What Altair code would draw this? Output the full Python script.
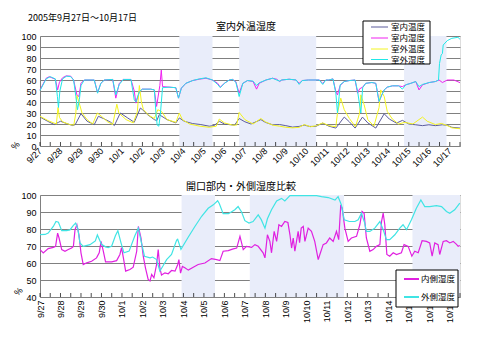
import altair as alt
import pandas as pd

FONT = "Noto Sans CJK JP"
NUMFONT = "Liberation Sans"

header = "2005年9月27日～10月17日"
top_title = "室内外温湿度"
bottom_title = "開口部内・外側湿度比較"

day_labels = ["9/27", "9/28", "9/29", "9/30", "10/1", "10/2", "10/3", "10/4", "10/5",
              "10/6", "10/7", "10/8", "10/9", "10/10", "10/11", "10/12", "10/13",
              "10/14", "10/15", "10/16", "10/17"]

top_names = ["室内温度", "室内湿度", "室外温度", "室外湿度"]
top_colors = ["#5c5c9c", "#f020f0", "#f4f420", "#20e8e8"]
bottom_names = ["内側湿度", "外側湿度"]
bottom_colors = ["#e020e0", "#40e4e4"]

# shaded periods (days from 9/27 0:00)
top_band_start = [6.80, 9.72, 17.77]
top_band_end = [8.42, 13.48, 19.84]
bottom_band_start = [6.91, 10.24, 18.18]
bottom_band_end = [8.54, 14.84, 20.5]

# ---------------- top panel series ----------------
in_temp_d = [0, 0.37, 0.7, 0.9, 1.0, 1.3, 1.6, 1.72, 2.0, 2.3, 2.65, 2.85, 3.14, 3.45, 3.63, 3.92,
             4.28, 4.6, 4.9, 5.0, 5.25, 5.58, 5.7, 5.82, 6.2, 6.63, 6.8, 7.04, 7.45, 7.85, 8.26,
             8.5, 8.75, 9.0, 9.3, 9.5, 9.72, 10.0, 10.3, 10.78, 11.0, 11.35, 11.7, 12.0, 12.33,
             12.65, 12.9, 13.15, 13.46, 13.8, 14.1, 14.44, 14.85, 15.1, 15.38, 15.74, 16.0,
             16.39, 16.8, 17.05, 17.4, 17.69, 18.0, 18.34, 18.67, 18.98, 19.3, 19.64, 19.88,
             20.1, 20.5]
in_temp_v = [26.4, 22.5, 19.5, 21.5, 22.5, 20.4, 18.6, 19.5, 29.4, 22.5, 19.5, 27, 24.6, 21.6,
             18.6, 30, 25.5, 21.6, 34.5, 33, 28.5, 24, 23, 28.5, 24, 21, 25.5, 22.5, 20.4, 19.5,
             18, 18.6, 22.5, 20, 19.3, 19, 25, 22, 20, 24, 21.5, 19.3, 19.5, 18.5, 17.2, 17.8,
             19, 17.8, 17.8, 20.8, 18, 16.3, 26.3, 22, 16.3, 26.3, 21, 16.3, 29.3, 24.5, 20.8,
             23.3, 20, 19.3, 18.5, 19.3, 18.5, 19.3, 18.8, 17, 16.3]

in_hum_d = [0, 0.3, 0.45, 0.75, 0.86, 0.95, 1.1, 1.27, 1.5, 1.64, 1.8, 1.9, 2.0, 2.16, 2.65,
            2.81, 2.97, 3.14, 3.55, 3.7, 3.87, 4.07, 4.44, 4.6, 4.68, 4.85, 5.0, 5.4, 5.58,
            5.69, 5.85, 5.92, 5.98, 6.3, 6.63, 6.76, 6.9, 7.12, 7.45, 7.77, 8.1, 8.42, 8.67,
            8.8, 9.0, 9.24, 9.4, 9.56, 9.72, 9.9, 10.13, 10.4, 10.57, 10.7, 11.03, 11.35, 11.55,
            11.7, 11.8, 12.16, 12.5, 12.65, 12.8, 13.1, 13.63, 13.8, 13.95, 14.1, 14.3, 14.44,
            14.52, 14.65, 14.85, 15.1, 15.38, 15.5, 15.6, 15.75, 15.9, 16.2, 16.39, 16.55,
            16.72, 16.8, 16.95, 17.2, 17.5, 17.69, 17.85, 18.1, 18.34, 18.5, 18.67, 19.0, 19.3,
            19.48, 19.64, 19.88, 20.2, 20.45, 20.5]
in_hum_v = [51, 61.6, 63, 60.7, 51, 58, 62, 63.7, 63.5, 60, 46.5, 45, 57, 60, 60, 48.6, 57, 60,
            60.5, 43.5, 57, 60.5, 60.5, 50, 39, 49.5, 51.7, 51.7, 51, 36, 55, 69, 54, 53.5, 53,
            43.5, 52.6, 57, 59.5, 60.7, 61.6, 60, 57, 53.5, 57, 60, 60.5, 58.5, 48, 57, 59.5,
            58.6, 51.7, 57, 60, 61.6, 60.7, 58.6, 60, 60.7, 60, 57, 59.5, 60, 60, 57, 60, 60,
            61, 49.5, 46.5, 55, 58.6, 59.5, 60, 48, 52, 53.5, 57, 57.7, 57, 40.5, 48, 51, 53.5,
            54.7, 54.7, 54, 55.6, 57, 58.6, 51, 55.6, 57.7, 58.6, 60, 57.7, 60, 60, 58, 57.5]

out_temp_d = [0, 0.4, 0.8, 0.88, 0.95, 1.1, 1.45, 1.65, 1.75, 1.8, 1.9, 2.05, 2.3, 2.57, 2.8,
              3.0, 3.3, 3.55, 3.75, 3.85, 4.2, 4.55, 4.75, 4.85, 4.95, 5.05, 5.3, 5.58, 5.75,
              5.95, 6.2, 6.63, 6.8, 6.95, 7.3, 7.8, 8.26, 8.6, 8.75, 9.0, 9.4, 9.6, 9.72, 10.0,
              10.4, 10.78, 11.0, 11.35, 11.7, 12.0, 12.33, 12.65, 12.9, 13.2, 13.5, 13.8, 14.1,
              14.44, 14.52, 14.68, 14.85, 15.1, 15.4, 15.6, 15.66, 15.82, 16.0, 16.3, 16.55,
              16.63, 16.8, 16.95, 17.2, 17.5, 17.8, 18.2, 18.67, 18.9, 19.3, 19.6, 19.95, 20.1,
              20.5]
out_temp_v = [27, 23, 20, 35, 26, 22, 19.5, 19, 30, 46, 40, 30, 24, 20, 30, 27, 22, 19.5, 38,
              30, 24, 21, 31, 55, 40, 33, 28, 25, 33, 31, 24, 21.5, 30, 24, 20, 18, 17, 18, 24.5,
              21, 19, 19, 30.5, 24, 20, 25, 22, 19, 18, 17, 16.5, 17, 19.5, 17.5, 18.5, 21, 18.5,
              17.5, 30, 43.5, 33, 25, 17.5, 30, 46.5, 37.5, 24, 18, 35, 51, 45, 31.4, 24.5, 20,
              21.5, 20, 26.3, 22.5, 19.5, 20.5, 18, 16.5, 15.7]

out_hum_d = [0, 0.3, 0.5, 0.75, 0.85, 0.9, 0.97, 1.1, 1.3, 1.5, 1.64, 1.75, 1.83, 1.92, 2.0,
             2.16, 2.65, 2.81, 2.97, 3.14, 3.55, 3.7, 3.87, 4.07, 4.44, 4.6, 4.68, 4.85, 5.0,
             5.4, 5.58, 5.66, 5.72, 5.8, 5.88, 5.98, 6.3, 6.63, 6.76, 6.9, 7.12, 7.45, 7.77,
             8.1, 8.42, 8.67, 8.8, 9.0, 9.24, 9.4, 9.56, 9.72, 9.9, 10.13, 10.4, 10.57, 10.7,
             11.03, 11.35, 11.55, 11.7, 11.8, 12.16, 12.5, 12.65, 12.8, 13.1, 13.63, 13.8,
             13.95, 14.1, 14.3, 14.44, 14.52, 14.6, 14.65, 14.85, 15.1, 15.38, 15.5, 15.66,
             15.75, 15.9, 16.2, 16.39, 16.55, 16.65, 16.8, 16.95, 17.2, 17.5, 17.69, 17.85,
             18.1, 18.34, 18.5, 18.67, 19.0, 19.3, 19.45, 19.5, 19.58, 19.64, 19.68, 19.88,
             20.1, 20.4, 20.5]
out_hum_v = [50.4, 61, 63, 61, 45, 35, 50, 61, 63.5, 63, 60, 45, 33, 42, 55, 60, 60, 48, 57,
             60, 60.5, 46.5, 56, 60.5, 60.5, 42, 40, 49.5, 51.7, 51.7, 51, 30, 19, 18, 30, 53,
             53.5, 53, 43.5, 52.6, 57, 59.5, 61, 62, 60, 56, 53, 57, 60, 60.5, 58, 45, 57, 59.5,
             59, 55, 57.5, 60, 61.6, 60, 59, 60, 60.7, 60, 56, 59.5, 60, 60, 56, 60, 60, 61, 48,
             30, 45, 55.6, 58.6, 59.5, 60, 50, 30, 53, 57, 57.7, 57, 40.5, 45, 51, 53.5, 54.7,
             54.7, 51.7, 55.6, 57, 58.6, 54, 56, 57.7, 58.6, 60, 75, 82.8, 84, 91.8, 95.8, 97.9,
             98.8, 97]

# ---------------- bottom panel series ----------------
inner_d = [0, 0.16, 0.4, 0.65, 0.76, 0.86, 0.93, 1.06, 1.22, 1.38, 1.54, 1.63, 1.71, 1.8, 1.9,
           2.0, 2.11, 2.28, 2.52, 2.76, 2.89, 2.98, 3.09, 3.2, 3.5, 3.74, 3.9, 3.98, 4.07, 4.18,
           4.39, 4.55, 4.72, 4.8, 4.93, 5.04, 5.15, 5.28, 5.37, 5.45, 5.56, 5.69, 5.77, 5.85,
           5.93, 6.1, 6.26, 6.42, 6.59, 6.72, 6.78, 6.86, 6.95, 7.07, 7.24, 7.48, 7.72, 8.05,
           8.37, 8.62, 8.78, 8.94, 9.19, 9.43, 9.6, 9.76, 9.84, 9.92, 10.08, 10.33, 10.49,
           10.65, 10.89, 10.98, 11.1, 11.22, 11.3, 11.43, 11.55, 11.66, 11.79, 11.95, 12.1,
           12.2, 12.28, 12.36, 12.44, 12.6, 12.67, 12.75, 12.85, 12.93, 13.09, 13.25, 13.41,
           13.58, 13.66, 13.82, 13.98, 14.14, 14.31, 14.47, 14.58, 14.68, 14.75, 14.88, 15.04,
           15.2, 15.45, 15.61, 15.72, 15.82, 15.93, 16.1, 16.26, 16.42, 16.59, 16.67, 16.75,
           16.83, 16.93, 17.07, 17.24, 17.4, 17.64, 17.77, 17.97, 18.15, 18.29, 18.46, 18.65,
           18.86, 19.02, 19.14, 19.27, 19.43, 19.51, 19.68, 19.84, 20.0, 20.17, 20.33, 20.41,
           20.49]
inner_v = [67.9, 65.9, 68.5, 69.2, 69.8, 77.6, 74.7, 67.9, 66.9, 67.9, 68.8, 69.8, 79.6, 82.5,
           76.6, 66, 59.1, 60.1, 61, 63, 66, 72.7, 67, 60.7, 60.7, 61.4, 65, 69, 63, 55.2, 56.2,
           57.5, 66.9, 81.5, 74.7, 64, 57, 50.3, 49.4, 53.3, 51.3, 59.1, 67.9, 57.2, 52.9, 54.2,
           53.7, 55.6, 55.2, 59, 62, 54, 58, 57.2, 55.8, 57.5, 59.1, 60, 62.6, 62, 61.4, 66.9,
           67.3, 68.3, 68.8, 75.7, 71.8, 67.9, 69.8, 69.2, 70.8, 69.8, 66, 63, 76.6, 72.7, 66,
           78.6, 72.7, 82.5, 81.5, 84.4, 83.8, 76.6, 68.8, 74.7, 66.9, 78.6, 72, 80.5, 81.5,
           72.7, 80.5, 78.6, 72.7, 62, 65, 70.8, 71.8, 74.7, 72.7, 78.6, 73.7, 94.2, 92.2, 80.5,
           72.7, 74.7, 75.7, 82.5, 90.3, 89.3, 74.7, 66.9, 67.9, 69.8, 70.8, 84.4, 89.3, 82.5,
           65, 64, 66, 65, 66, 70.8, 69.8, 64, 66.9, 66, 73.1, 72.7, 71.8, 64, 71.8, 70.8, 65,
           72.7, 73.1, 71.8, 72.7, 71, 69.8, 70.3]

outer_d = [0, 0.25, 0.4, 0.65, 0.78, 0.9, 1.06, 1.3, 1.46, 1.62, 1.74, 1.85, 1.95, 2.11, 2.44,
           2.7, 2.8, 3.0, 3.2, 3.33, 3.5, 3.68, 3.8, 3.95, 4.1, 4.35, 4.63, 4.8, 4.95, 5.1, 5.37,
           5.5, 5.69, 5.85, 6.0, 6.18, 6.42, 6.67, 6.72, 6.88, 7.24, 7.56, 7.89, 8.21, 8.46,
           8.67, 8.75, 8.94, 9.2, 9.51, 9.67, 9.84, 10.0, 10.2, 10.4, 10.65, 10.8, 10.98, 11.1,
           11.3, 11.55, 11.79, 11.95, 12.2, 12.5, 13.09, 13.5, 13.74, 14.07, 14.4, 14.55,
           14.71, 14.85, 15.1, 15.37, 15.53, 15.69, 15.85, 15.93, 16.1, 16.34, 16.59, 16.75,
           16.91, 17.07, 17.32, 17.56, 17.72, 17.89, 18.13, 18.37, 18.59, 18.78, 19.02, 19.35,
           19.6, 19.84, 20.0, 20.24, 20.49]
outer_v = [76.7, 76.8, 77.6, 81.5, 84.4, 84, 79, 79, 79.5, 82, 83.5, 80, 71.8, 69.8, 70.8, 73,
           76.5, 71, 69.5, 69, 70, 76, 79, 72, 66, 67, 76, 80.5, 72, 64, 63, 63.5, 62, 55.3,
           58.2, 62, 65, 73.5, 74, 68, 75.3, 81.5, 87.5, 92.2, 94.2, 96.6, 95, 89, 89, 91.3,
           93.2, 90, 84.9, 83.5, 84.4, 88.3, 85.5, 80.5, 86, 91.3, 96.5, 98, 96.5, 99.6, 99.6,
           99.6, 99.6, 99, 98.5, 97, 99, 94.2, 85.4, 84.4, 84.4, 85.4, 89.3, 83.5, 78.6, 78.6,
           80.5, 84.4, 79.6, 73.7, 73.7, 76.6, 80.5, 82.5, 79.6, 85.4, 92.2, 97.1, 93.2, 93.2,
           93.8, 93.2, 90.3, 89.3, 91.3, 95.2]

# ---------------- build tables ----------------
def series(d, v, name):
    return pd.DataFrame({"d": d, "v": v, "s": name})

top_df = pd.concat([
    series(in_temp_d, in_temp_v, top_names[0]),
    series(in_hum_d, in_hum_v, top_names[1]),
    series(out_temp_d, out_temp_v, top_names[2]),
    series(out_hum_d, out_hum_v, top_names[3]),
])
bottom_df = pd.concat([
    series(inner_d, inner_v, bottom_names[0]),
    series(outer_d, outer_v, bottom_names[1]),
])

W = 420
H1 = 110
H2 = 102
XMAX = 20.5
GRID = "#808080"
BAND = "#e9edfa"

tick_pos = pd.DataFrame({"p": [i * 0.5 for i in range(len(day_labels) * 2)]})
labels_js = "[" + ",".join("'%s'" % s for s in day_labels) + "]"
x_scale = alt.Scale(domain=[0, XMAX], nice=False, zero=False)


def x_axis(angle, align, baseline):
    return alt.Axis(values=list(range(len(day_labels))), labelExpr=labels_js + "[datum.value]",
                    labelAngle=angle, labelAlign=align, labelBaseline=baseline,
                    labelOverlap=False, labelFlush=False,
                    ticks=False, grid=False, domainColor=GRID, labelFontSize=9,
                    labelPadding=3, title=None, labelFont=NUMFONT, labelColor="#000000")


def y_axis(lo, title_x, title_y):
    return alt.Axis(values=list(range(lo, 101, 10)), grid=True, gridColor=GRID,
                    domainColor=GRID, ticks=False, labelFontSize=9, labelPadding=4,
                    labelFont=NUMFONT, labelColor="#000000", labelOverlap=False,
                    labelFlush=False,
                    title="%", titleAngle=-45, titleX=title_x, titleY=title_y,
                    titleAlign="center", titleBaseline="middle",
                    titleFontSize=9, titleFontWeight="normal", titleFont=NUMFONT)


def bands(start, end, h, axis):
    df = pd.DataFrame({"a": start, "b": end})
    return alt.Chart(df).mark_rect(color=BAND).encode(
        x=alt.X("a:Q", scale=x_scale, axis=axis), x2="b:Q", y=alt.value(0), y2=alt.value(h))


def ticks(h, axis):
    return alt.Chart(tick_pos).mark_tick(color="#000000", thickness=1).encode(
        x=alt.X("p:Q", scale=x_scale, axis=axis), y=alt.value(h - 2), size=alt.value(4))


def note(text, x, y, align, size):
    return alt.Chart(pd.DataFrame({"t": [text]})).mark_text(
        align=align, baseline="middle", fontSize=size, font=FONT, color="#000000").encode(
        text="t:N", x=alt.value(x), y=alt.value(y))


def legend(names, colors, box, sym_x, txt_x, row_y, stroke_w):
    one = pd.DataFrame({"k": [0]})
    parts = [alt.Chart(one).mark_rect(fill="#ffffff", stroke="#000000", strokeWidth=1).encode(
        x=alt.value(box[0]), x2=alt.value(box[2]), y=alt.value(box[1]), y2=alt.value(box[3]))]
    for name, col, ry in zip(names, colors, row_y):
        parts.append(alt.Chart(one).mark_rule(strokeWidth=stroke_w, color=col).encode(
            x=alt.value(sym_x[0]), x2=alt.value(sym_x[1]), y=alt.value(ry)))
        parts.append(note(name, txt_x, ry, "left", 8.5))
    return parts


# ---------------- top ----------------
ax_top = x_axis(-45, "right", "middle")
top_lines = alt.Chart(top_df).mark_line(strokeWidth=1).encode(
    x=alt.X("d:Q", scale=x_scale, axis=ax_top),
    y=alt.Y("v:Q", scale=alt.Scale(domain=[0, 100], nice=False), axis=y_axis(0, -25, 109)),
    color=alt.Color("s:N", scale=alt.Scale(domain=top_names, range=top_colors), legend=None),
    detail="s:N",
)

top = alt.layer(
    bands(top_band_start, top_band_end, H1, ax_top), top_lines, ticks(H1, ax_top),
    note(header, -12, -18, "left", 9),
    note(top_title, W / 2 - 4, -9, "center", 10),
    *legend(top_names, top_colors, (323, -15, 390, 28), (331, 348), 351, [-9, 2, 13, 23.5], 1),
).properties(width=W, height=H1)

# ---------------- bottom ----------------
ax_bot = x_axis(-90, "right", "middle")
bottom_lines = alt.Chart(bottom_df).mark_line(strokeWidth=1.2).encode(
    x=alt.X("d:Q", scale=x_scale, axis=ax_bot),
    y=alt.Y("v:Q", scale=alt.Scale(domain=[40, 100], nice=False), axis=y_axis(40, -22, 96)),
    color=alt.Color("s:N", scale=alt.Scale(domain=bottom_names, range=bottom_colors), legend=None),
    detail="s:N",
)

bottom = alt.layer(
    bands(bottom_band_start, bottom_band_end, H2, ax_bot), bottom_lines, ticks(H2, ax_bot),
    note(bottom_title, W / 2 - 9, -8, "center", 10),
    *legend(bottom_names, bottom_colors, (356, 75, 418, 112), (364, 379), 381, [84, 102], 2),
).properties(width=W, height=H2)

chart = alt.vconcat(top, bottom, spacing=49, bounds="flush").resolve_scale(
    color="independent").properties(
    padding={"left": 0, "top": 5, "right": 5, "bottom": 5}, background="#ffffff"
).configure_view(stroke=GRID).configure(font=FONT)

chart.save("out.html", embed_options={"renderer": "svg", "actions": False})
